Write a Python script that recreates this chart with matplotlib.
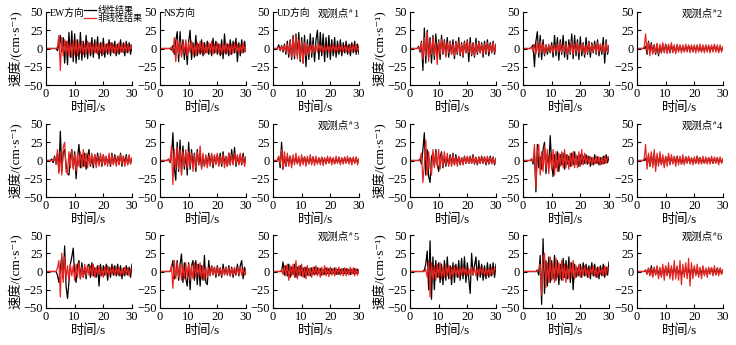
import numpy as np
import matplotlib
matplotlib.use('Agg')
from matplotlib import pyplot as plt

plt.rcParams['font.family'] = ['Liberation Serif', 'Noto Sans CJK SC', 'DejaVu Sans']
plt.rcParams['axes.unicode_minus'] = True

# velocity records (cm/s), sampled every 0.5 s from 0 to 30 s
ew1_lin = [0, 0, 0, 0, 0, 0, 0, 0, -3, 5,
           18, -5, 15, -20, 10, -22, 22, -12, 24, -18,
           20, -20, 12, -15, 22, -16, 10, -12, 18, -14,
           8, -10, 15, -12, 12, -6, 16, -14, 8, -10,
           14, -12, 6, -8, 12, -10, 8, -6, 10, -10,
           6, -8, 12, -5, 8, -10, 10, -6, 8, -8, 5]
ew1_non = [0, 0, 0, 0, 0, 0, 0, 0, 2, 18,
           -30, 15, -10, 12, -8, 10, -10, 8, -12, 10,
           -8, 12, -10, 8, -6, 10, -8, 6, -8, 10,
           -6, 8, -8, 6, -6, 8, -8, 6, -6, 8,
           -8, 6, -5, 7, -6, 8, -5, 6, -7, 5,
           -6, 8, -5, 6, -6, 7, -5, 6, -4, 5, 0]
ns1_lin = [0, 0, 0, 0, 0, 0, 0, 0, -2, 4,
           -8, 10, 23, -18, 23, -10, 12, -15, 8, -22,
           10, 25, -15, 8, -12, 18, -10, 6, -8, 12,
           -10, 8, -6, 10, -8, 6, -10, 14, -6, 10,
           -8, 6, -10, 12, -14, 20, -8, 6, -10, 12,
           -8, 10, -6, 14, -18, 8, -10, 12, -6, 10, -4]
ns1_non = [0, 0, 0, 0, 0, 0, 0, 0, 2, -5,
           15, -18, 12, -8, 10, -12, 8, -6, 12, -10,
           8, -6, 10, -8, 6, -10, 8, -6, 10, -6,
           8, -8, 6, -6, 8, -6, 10, -8, 6, -6,
           8, -6, 6, -8, 6, -6, 8, -6, 6, -8,
           6, -6, 8, -5, 6, -6, 5, -6, 8, -5, 4]
ud1_lin = [0, 0, 0, 0, 5, -3, 4, -5, 6, -8,
           10, -12, 12, -15, 18, -14, 20, -10, 22, -18,
           15, -20, 18, -25, 12, -15, 20, -12, 15, -18,
           12, 25, -15, 22, -10, 20, -18, 15, -12, 18,
           -15, 12, -10, 15, -12, 10, -8, 12, -10, 8,
           -6, 10, -8, 6, -10, 8, -6, 10, -8, 6, -8]
ud1_non = [0, 0, 0, 0, 2, -2, 3, -3, 4, -5,
           6, -8, 10, -12, 15, -10, 18, -14, 12, -15,
           10, -20, 8, -10, 6, -8, 5, -6, 6, -5,
           4, -5, 6, -4, 5, -6, 4, -5, 4, -5,
           5, -4, 6, -5, 4, -5, 6, -4, 5, -4,
           4, -5, 4, -6, 5, -4, 5, -4, 6, -4, 3]

ew2_lin = [0, 0, 0, 0, 0, 0, 3, -5, 10, -30,
           28, -20, 25, -12, 15, -20, 18, -15, 20, -10,
           12, -15, 18, -8, 12, -10, 15, -12, 10, -8,
           12, -14, 10, -8, 15, -10, 8, -12, 10, -6,
           12, -18, 15, -10, 8, -12, 14, -8, 10, -6,
           8, -12, 10, -8, 12, -10, 8, -6, 10, -8, 6]
ew2_non = [0, 0, 0, 0, 0, 0, 2, -3, 8, -15,
           15, -10, 22, -18, 12, -8, 15, -10, 8, -22,
           10, -8, 12, -6, 10, -12, 8, -6, 10, -8,
           6, -10, 8, -6, 10, -8, 6, -10, 8, -6,
           10, -6, 8, -8, 6, -10, 8, -6, 8, -6,
           6, -8, 6, -6, 8, -5, 6, -6, 8, -5, 4]
ns2_lin = [0, 0, 0, 0, 0, 0, 2, 5, -25, 10,
           23, -12, 18, -15, 12, -10, 5, -8, 4, -6,
           8, -12, 18, -10, 15, -16, 12, -8, 18, -12,
           10, -15, 12, -8, 20, -14, 18, -10, 12, -15,
           16, -10, 8, -12, 15, -8, 10, -12, 8, -6,
           10, -8, 12, -10, 6, -8, 15, -20, 12, -8, 4]
ns2_non = [0, 0, 0, 0, 0, 0, 2, -4, 6, -8,
           8, -6, 10, -5, 6, -8, 5, -4, 6, -5,
           4, -6, 5, -4, 6, -5, 8, -6, 5, -4,
           6, -8, 5, -6, 10, -8, 6, -5, 8, -6,
           5, -4, 6, -8, 5, -6, 8, -5, 6, -4,
           5, -6, 8, -5, 6, -4, 5, -6, 8, -5, 3]
ud2_lin = [0, 0, 0, 0, 0, 0, 3, -8, 10, -5,
           8, -6, 5, -8, 6, -10, 4, -6, 5, -4,
           6, -5, 4, -6, 5, -4, 3, -5, 4, -3,
           4, -3, 3, -4, 3, -3, 4, -3, 3, -4,
           3, -3, 4, -3, 3, -4, 3, -3, 4, -3,
           3, -4, 3, -3, 4, -3, 3, -4, 3, -3, 2]
ud2_non = [0, 0, 0, 0, 0, 2, 20, -5, 8, -10,
           6, -8, 5, -6, 7, -8, 6, -5, 8, -6,
           5, -7, 6, -5, 8, -6, 5, -7, 6, -5,
           5, -6, 5, -5, 6, -5, 5, -6, 5, -5,
           5, -6, 5, -5, 6, -5, 5, -6, 5, -5,
           5, -6, 5, -5, 6, -5, 5, -6, 5, -5, 3]

ew3_lin = [0, 0, 0, 0, 2, -3, 6, -5, 10, -15,
           40, -15, 10, 15, -5, -18, -20, 5, 15, -10,
           12, -25, 5, 22, -10, 8, -8, 10, -12, 6,
           15, -8, 5, -10, 8, -6, 10, -5, 6, -8,
           8, -6, 5, -4, 6, -8, 10, -5, 8, -4,
           6, -5, 10, -8, 6, -4, 8, -5, 6, -4, 3]
ew3_non = [0, 0, 0, 0, 0, 0, 4, -5, 15, -18,
           12, -20, 18, 25, -15, -18, 12, -10, 14, -12,
           8, -15, 10, -8, 12, -10, 15, -8, 10, -10,
           8, -6, 10, -6, 8, -10, 6, -8, 10, -6,
           8, -6, 6, -8, 10, -6, 8, -6, 5, -8,
           6, -6, 8, -5, 6, -8, 5, -6, 8, -5, 4]
ns3_lin = [0, 0, 0, 0, 0, 0, 2, -3, 5, 38,
           -10, -27, 25, -15, 28, -18, 20, -12, 10, -20,
           25, -12, 15, -8, 10, -15, 15, -6, 8, -10,
           6, -8, 5, -6, 10, -5, 8, -10, 6, -4,
           8, -6, 10, -8, 12, -4, 5, -8, 10, -6,
           15, -5, 18, -8, 6, -5, 8, -6, 10, -4, 5]
ns3_non = [0, 0, 0, 0, 0, 0, 2, -2, 20, -33,
           15, -10, 18, -12, 15, -20, 12, -8, 15, -10,
           12, -8, 10, -15, 8, -10, 12, -6, 20, -12,
           10, -8, 8, -10, 6, -8, 10, -6, 8, -6,
           10, -8, 6, -5, 8, -10, 6, -8, 10, -6,
           8, -6, 10, -5, 8, -6, 10, -5, 6, -8, 4]
ud3_lin = [0, 0, 0, 0, 5, -10, 25, -12, 6, -8,
           5, -4, 6, -5, 4, -3, 5, -4, 3, -5,
           4, -3, 5, -4, 3, -4, 4, -3, 5, -3,
           3, -4, 3, -3, 4, -3, 3, -4, 3, -3,
           4, -3, 3, -4, 3, -3, 4, -3, 3, -3,
           4, -3, 3, -3, 4, -3, 3, -3, 4, -3, 2]
ud3_non = [0, 0, 0, 0, 6, -5, 15, -12, 12, -8,
           10, -8, 6, -10, 8, -6, 10, -5, 6, -8,
           8, -6, 5, -8, 6, -5, 8, -6, 5, -7,
           6, -5, 4, -6, 5, -7, 4, -5, 6, -4,
           5, -6, 4, -5, 6, -4, 5, -6, 4, -5,
           5, -4, 6, -5, 4, -6, 5, -4, 5, -6, 3]

ew4_lin = [0, 0, 0, 0, 0, 0, 0, 2, -5, 15,
           38, -20, 15, -22, -30, 5, 10, -8, 15, -5,
           -15, 5, 12, -10, 6, -8, 5, -6, 8, -5,
           10, -6, 8, -4, 5, -6, 4, -5, 6, -4,
           5, -4, 6, -4, 8, -5, 4, -6, 5, -4,
           6, -4, 5, -6, 4, -5, 6, -4, 5, -6, 3]
ew4_non = [0, 0, 0, 0, 0, 0, 0, 2, 10, -30,
           -5, 28, -20, 12, -10, -20, 15, -10, 12, -8,
           15, -12, 10, -8, 12, -6, 10, -8, 6, -8,
           8, -6, 5, -8, 6, -5, 4, -6, 5, -4,
           6, -4, 5, -4, 6, -4, 5, -5, 4, -4,
           5, -4, 5, -4, 6, -4, 4, -5, 4, -4, 2]
ns4_lin = [0, 0, 0, 0, 0, 0, 2, -5, 10, -43,
           22, -10, 5, -12, 15, 25, -18, 10, -8, 34,
           -5, -22, 8, -10, 12, -15, 8, -6, 10, -12,
           8, -5, 6, -8, 10, -6, 12, -5, 6, -8,
           8, -5, 6, -4, 8, -5, 6, -8, 4, -6,
           8, -4, 5, -6, 4, -5, 6, -4, 8, -3, 5]
ns4_non = [0, 0, 0, 0, 0, 0, 2, -3, 22, -38,
           10, 22, -20, 12, -15, 20, -12, 15, -18, 10,
           -12, 15, -20, 12, -15, 10, -8, 12, -10, 15,
           -10, 8, -12, 10, -8, 12, -10, 8, -10, 12,
           -8, 15, -6, 10, -5, 6, -4, 5, -6, 4,
           -5, 6, -4, 5, -6, 4, -5, 6, -4, 5, 3]
ud4_lin = [0, 0, 0, 0, 0, 0, 3, -5, 6, -8,
           8, -6, 10, -8, 5, -4, 6, -5, 4, -6,
           5, -4, 6, -5, 4, -3, 5, -4, 6, -3,
           4, -5, 3, -4, 5, -3, 4, -3, 3, -4,
           3, -4, 6, -3, 4, -3, 3, -4, 3, -3,
           4, -3, 3, -4, 3, -3, 4, -3, 3, -3, 2]
ud4_non = [0, 0, 0, 0, 0, 2, 22, -12, 10, -8,
           12, -10, 15, -15, 10, -8, 12, -6, 8, -10,
           6, -8, 10, -6, 8, -5, 6, -8, 5, -6,
           6, -5, 8, -6, 5, -4, 6, -5, 4, -6,
           5, -4, 6, -5, 4, -5, 6, -4, 5, -5,
           4, -5, 6, -4, 5, -4, 4, -6, 5, -4, 3]

ew5_lin = [0, 0, 0, 0, 0, 0, 0, 0, -5, -15,
           5, 20, -10, 35, -20, -37, -15, 10, 20, 32,
           -5, -15, 8, 15, -10, 12, -8, 6, -10, 8,
           10, -8, 12, -6, 5, -8, 8, -20, 10, -6,
           8, -5, 10, -12, 6, -8, 10, -5, 8, -6,
           10, -6, 8, -10, 5, -6, 8, -5, 6, -8, 10]
ew5_non = [0, 0, 0, 0, 0, 0, 0, 0, 5, 15,
           -35, 25, -15, 20, -10, 8, -12, 10, -6, 8,
           -12, 10, -8, 12, -10, 6, -8, 10, -6, 8,
           -5, 8, -6, 10, -8, 6, -5, 8, -6, 5,
           -8, 6, -5, 8, -6, 5, -4, 6, -5, 6,
           -4, 5, -6, 4, -5, 6, -4, 5, -6, 4, 3]
ns5_lin = [0, 0, 0, 0, 0, 0, 0, 0, 5, 15,
           -10, -5, 15, -12, 10, 24, -15, 12, -10, -20,
           12, -25, 8, 15, -12, 15, -18, 10, -20, 8,
           -12, 22, -15, -18, 15, -5, 8, -4, 6, -8,
           8, -6, 5, -8, 10, -4, 6, -5, 8, -6,
           6, -8, 4, -5, 10, -6, 8, 15, -10, 6, -4]
ns5_non = [0, 0, 0, 0, 0, 0, 0, 0, 8, -23,
           15, -10, 12, -8, 10, -12, 8, -10, 12, -8,
           10, -12, 8, -10, 12, -8, 10, -6, 12, -10,
           8, -12, 6, -8, 5, -6, 8, -5, 6, -5,
           6, -4, 5, -6, 4, -5, 6, -4, 5, -6,
           4, -5, 6, -4, 5, -4, 6, -5, 4, -5, 3]
ud5_lin = [0, 0, 0, 0, 0, 0, 0, 13, -5, 8,
           -6, 10, -8, 6, -4, 10, -8, 6, -5, 8,
           -6, 5, -8, 6, -5, 4, -6, 5, -4, 6,
           -4, 5, -3, 4, -5, 3, -4, 5, -3, 4,
           -3, 4, -3, 5, -4, 3, -4, 3, -3, 4,
           -3, 4, -3, 3, -4, 3, -3, 4, -3, 3, -2]
ud5_non = [0, 0, 0, 0, 0, 0, 2, -4, 8, -6,
           10, -12, 8, -6, 10, -8, 15, -10, 8, -6,
           10, -8, 6, -10, 8, -6, 5, -8, 6, -5,
           8, -6, 5, -8, 6, -5, 8, -6, 5, -7,
           6, -5, 4, -6, 5, -4, 6, -5, 4, -6,
           5, -6, 4, -5, 6, -4, 5, -6, 4, -5, 3]

ew6_lin = [0, 0, 0, 0, 0, 0, 0, 0, 0, 0,
           2, 10, 28, -25, 42, -38, 20, -25, 15, -8,
           12, -15, 10, -18, 15, -12, 20, -10, 8, -18,
           12, -15, 10, -8, 15, -12, 18, -10, 20, -15,
           12, -10, -30, 25, -5, 8, 20, -12, 15, -8,
           10, -12, 8, -10, 12, -8, 10, -6, 12, -8, 10]
ew6_non = [0, 0, 0, 0, 0, 0, 0, 0, 0, 0,
           0, 3, -8, 15, -35, 12, -10, 8, -12, 10,
           -8, 12, -10, 6, -8, 10, -6, 8, -10, 6,
           -5, 8, -6, 5, -8, 6, -5, 6, -4, 5,
           -6, 4, -5, 6, -4, 5, -6, 4, -5, 6,
           -4, 5, -6, 4, -5, 4, -6, 5, -4, 5, 3]
ns6_lin = [0, 0, 0, 0, 0, 0, 0, 0, 0, 0,
           2, -5, 22, -45, 45, -30, 15, -20, 20, -15,
           15, -10, 22, -12, 15, -18, 10, -12, 18, -8,
           15, -10, 20, -15, 12, -25, 10, -8, 5, -6,
           10, -8, 12, -6, 10, -8, 8, -10, 12, -6,
           10, -8, 6, -10, 8, -6, 10, -8, 6, -5, 13]
ns6_non = [0, 0, 0, 0, 0, 0, 0, 0, 0, 0,
           0, 3, 10, -32, 20, 25, -22, 12, -15, 20,
           -12, 10, -15, 18, -8, 12, -10, 15, -12, 10,
           -15, 8, -10, 12, -8, 15, -10, 8, -6, 10,
           -8, 6, -5, 8, -6, 5, -8, 6, -4, 8,
           -6, 5, -8, 6, -4, 5, -6, 8, -5, 6, 4]
ud6_lin = [0, 0, 0, 0, 0, 0, 2, -3, 4, -5,
           8, -6, 5, -4, 6, -5, 4, -6, 5, -4,
           6, -5, 4, -6, 5, -4, 6, -3, 5, -4,
           3, -5, 4, -3, 5, -4, 3, -5, 4, -3,
           5, -4, 3, -5, 4, -3, 5, -4, 3, -4,
           4, -3, 5, -4, 3, -4, 5, -3, 4, -3, 2]
ud6_non = [0, 0, 0, 0, 0, 0, 2, -4, 5, -6,
           4, -8, 6, -5, 8, -10, 6, -8, 10, -12,
           8, -6, 12, -10, 8, -12, 15, -10, 8, -12,
           15, -18, 10, -8, 12, -10, 18, -20, 12, -10,
           8, -6, 10, -8, 6, -10, 8, -6, 5, -8,
           6, -4, 5, -6, 8, -5, 4, -6, 5, -4, 3]

panels = [
    [(ew1_lin, ew1_non), (ns1_lin, ns1_non), (ud1_lin, ud1_non),
     (ew2_lin, ew2_non), (ns2_lin, ns2_non), (ud2_lin, ud2_non)],
    [(ew3_lin, ew3_non), (ns3_lin, ns3_non), (ud3_lin, ud3_non),
     (ew4_lin, ew4_non), (ns4_lin, ns4_non), (ud4_lin, ud4_non)],
    [(ew5_lin, ew5_non), (ns5_lin, ns5_non), (ud5_lin, ud5_non),
     (ew6_lin, ew6_non), (ns6_lin, ns6_non), (ud6_lin, ud6_non)],
]
point_labels = [['1', '2'], ['3', '4'], ['5', '6']]
dir_labels = ['EW方向', 'NS方向', 'UD方向']

W, H = 736, 345
col_x = [46, 160, 273, 410, 523, 637]
row_top = [12, 124, 235]
aw, ah = 86, 73

fig = plt.figure(figsize=(W / 100, H / 100), dpi=100)

for r in range(3):
    for c in range(6):
        ax = fig.add_axes([col_x[c] / W, 1 - (row_top[r] + ah) / H, aw / W, ah / H])
        lin, non = panels[r][c]
        t_lin = np.linspace(0, 30, len(lin))
        t_non = np.linspace(0, 30, len(non))
        l1, = ax.plot(t_lin, lin, color='black', lw=0.9, label='线性结果')
        l2, = ax.plot(t_non, non, color='#e8231f', lw=0.9, label='非线性结果')
        ax.set_xlim(0, 30)
        ax.set_ylim(-50, 50)
        ax.set_xticks([0, 10, 20, 30])
        ax.set_yticks([-50, -25, 0, 25, 50])
        ax.spines['top'].set_visible(False)
        ax.spines['right'].set_visible(False)
        ax.tick_params(direction='in', length=3, width=0.8, labelsize=9, pad=2)
        ax.set_xlabel('时间/s', fontsize=9.5, labelpad=1)
        if c in (0, 3):
            ax.set_ylabel('速度/(cm·s⁻¹)', fontsize=9.5, labelpad=1)
        if r == 0 and c < 3:
            ax.text(0.045, 0.99, dir_labels[c], transform=ax.transAxes,
                    fontsize=7, va='center', ha='left')
        if c % 3 == 2:
            # 观测点#n with a raised '#'
            y0 = 0.97
            ax.annotate(point_labels[r][c // 3], xy=(0.99, y0), xycoords='axes fraction',
                        fontsize=7.5, ha='right', va='center')
            ax.annotate('#', xy=(0.99, y0), xycoords='axes fraction',
                        xytext=(-3.9, 2.2), textcoords='offset points',
                        fontsize=5, ha='right', va='center')
            ax.annotate('观测点', xy=(0.99, y0), xycoords='axes fraction',
                        xytext=(-6.8, 0), textcoords='offset points',
                        fontsize=7.5, ha='right', va='center')
        if r == 0 and c == 0:
            ax.legend(handles=[l1, l2], loc='upper left', bbox_to_anchor=(0.445, 1.085),
                      frameon=False, fontsize=6.5, handlelength=1.35,
                      handletextpad=0.15, labelspacing=-0.05, borderpad=0,
                      borderaxespad=0)

fig.savefig('out.png', dpi=100)
